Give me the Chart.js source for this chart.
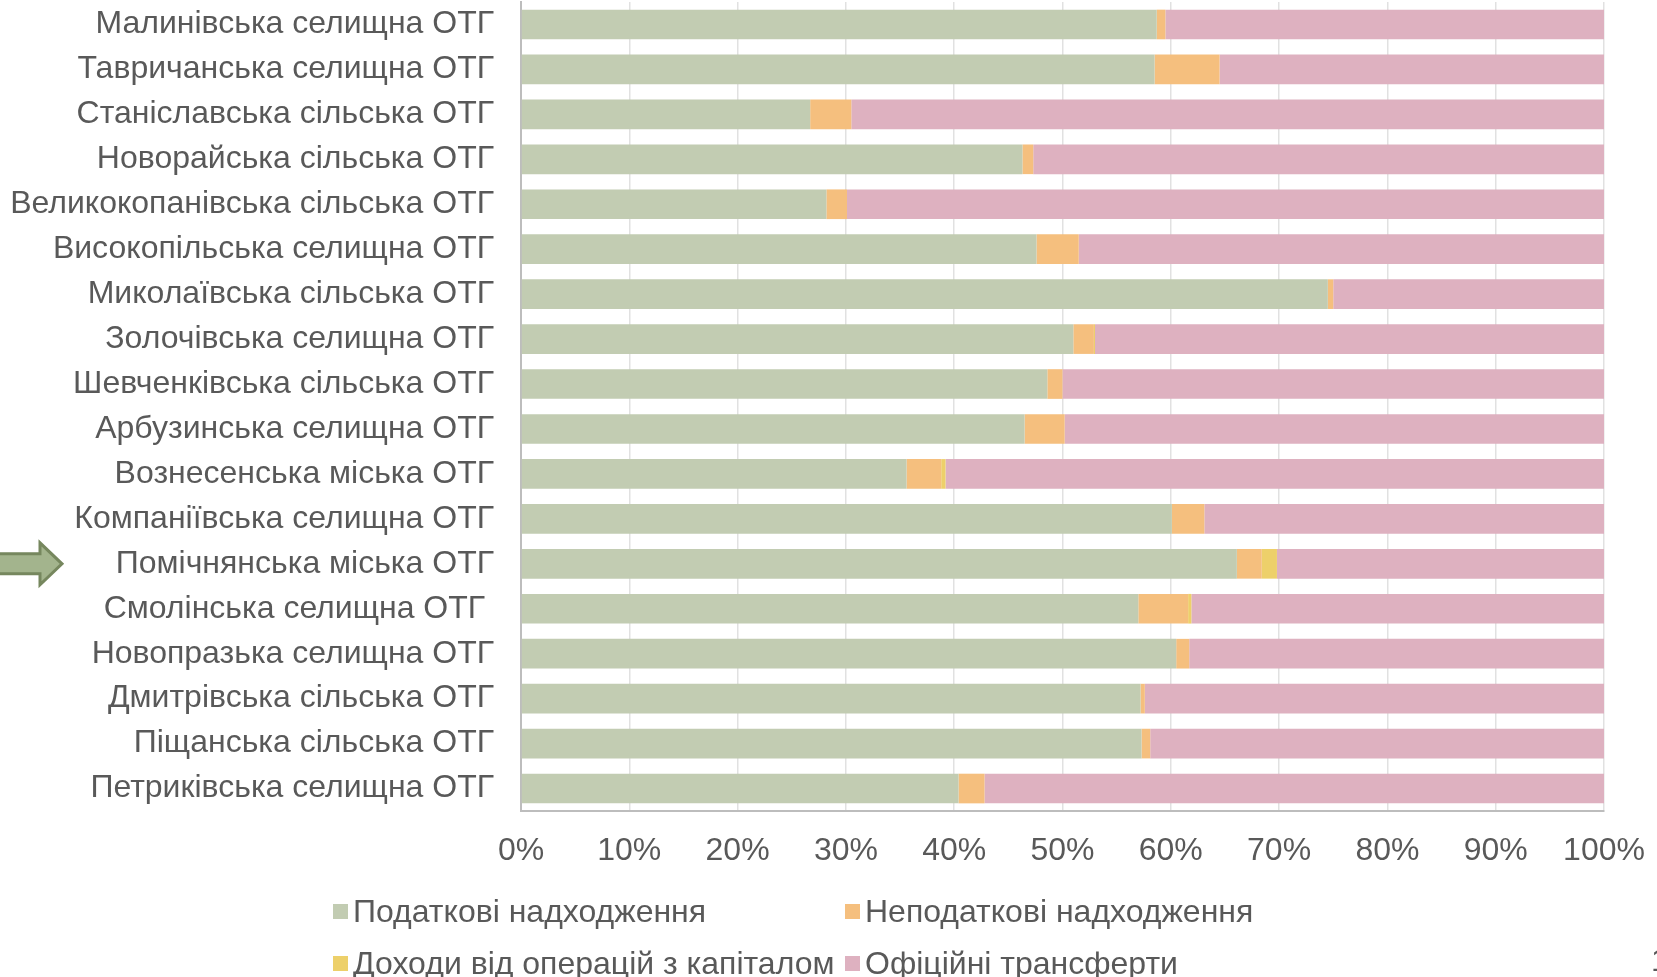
<!DOCTYPE html>
<html lang="uk">
<head>
<meta charset="utf-8">
<title>Структура доходів ОТГ</title>
<script src="https://cdn.jsdelivr.net/npm/chart.js@4.4.6/dist/chart.umd.min.js"></script>
<style>
  html, body { margin: 0; padding: 0; background: #fff; overflow: hidden; }
  #wrap { position: relative; width: 1657px; height: 977px; }
  #legend { position: absolute; left: 333px; top: 893px; width: 1100px;
    font-family: "Liberation Sans", Arial, sans-serif; font-size: 32px; color: #595959; }
  #legend .item { position: absolute; white-space: nowrap; display: flex; align-items: center; }
  #legend .box { width: 15px; height: 15px; margin-right: 5px; }
  #pagenum { position: absolute; left: 1651px; top: 942px; font: 32px "Liberation Sans", Arial, sans-serif; color: #595959; }
</style>
</head>
<body>
<div id="wrap">
  <canvas id="chart" width="1657" height="977"></canvas>
  <div id="legend"></div>
  <div id="pagenum">1</div>
</div>
<script>
// categories, top to bottom
const communities = [
  "Малинівська селищна ОТГ",
  "Тавричанська селищна ОТГ",
  "Станіславська сільська ОТГ",
  "Новорайська сільська ОТГ",
  "Великокопанівська сільська ОТГ",
  "Високопільська селищна ОТГ",
  "Миколаївська сільська ОТГ",
  "Золочівська селищна ОТГ",
  "Шевченківська сільська ОТГ",
  "Арбузинська селищна ОТГ",
  "Вознесенська міська ОТГ",
  "Компаніївська селищна ОТГ",
  "Помічнянська міська ОТГ",
  "Смолінська селищна ОТГ ",
  "Новопразька селищна ОТГ",
  "Дмитрівська сільська ОТГ",
  "Піщанська сільська ОТГ",
  "Петриківська селищна ОТГ"
]

// shares of revenue, %
const taxRevenue     = [58.7, 58.5, 26.7, 46.3, 28.2, 47.6, 74.5, 51.0, 48.6, 46.5, 35.6, 60.1, 66.1, 57.0, 60.5, 57.2, 57.3, 40.4]
const nonTaxRevenue  = [0.8, 6.0, 3.8, 1.0, 1.9, 3.9, 0.5, 1.9, 1.4, 3.7, 3.2, 3.0, 2.3, 4.6, 1.2, 0.4, 0.8, 2.4]
const capitalRevenue = [0, 0, 0, 0, 0, 0, 0, 0.1, 0, 0, 0.4, 0, 1.4, 0.3, 0, 0, 0, 0]
const transfers      = [40.5, 35.5, 69.5, 52.7, 69.9, 48.5, 25.0, 47.0, 50.0, 49.8, 60.8, 36.9, 30.2, 38.1, 38.3, 42.4, 41.9, 57.2]

const xTicks = [0, 10, 20, 30, 40, 50, 60, 70, 80, 90, 100]
const highlighted = "Помічнянська міська ОТГ"

const textColor = "#595959"
const fontFamily = "'Liberation Sans', Arial, sans-serif"

const seriesDefs = [
  { label: "Податкові надходження", data: taxRevenue, color: "#C2CCB2" },
  { label: "Неподаткові надходження", data: nonTaxRevenue, color: "#F5BF7E" },
  { label: "Доходи від операцій з капіталом", data: capitalRevenue, color: "#EDD06A" },
  { label: "Офіційні трансферти", data: transfers, color: "#DEB1C0" }
]

// green block arrow pointing at the highlighted community
const arrowPlugin = {
  id: "arrow",
  afterDraw(chart) {
    const idx = communities.indexOf(highlighted)
    if (idx < 0) return
    const y = chart.scales.y.getPixelForValue(idx)
    const ctx = chart.ctx
    ctx.save()
    ctx.beginPath()
    ctx.moveTo(-2, y - 10)
    ctx.lineTo(40, y - 10)
    ctx.lineTo(40, y - 21)
    ctx.lineTo(62, y)
    ctx.lineTo(40, y + 21)
    ctx.lineTo(40, y + 10)
    ctx.lineTo(-2, y + 10)
    ctx.closePath()
    ctx.fillStyle = "#A3B48D"
    ctx.fill()
    ctx.lineWidth = 3
    ctx.strokeStyle = "#76875E"
    ctx.stroke()
    ctx.restore()
  }
}

// two-column legend below the axis
const htmlLegend = {
  id: "htmlLegend",
  afterUpdate(chart) {
    const box = document.getElementById("legend")
    box.innerHTML = ""
    const cols = [0, 512]
    const rows = [0, 52]
    chart.data.datasets.forEach((ds, i) => {
      const item = document.createElement("div")
      item.className = "item"
      item.style.left = cols[i % 2] + "px"
      item.style.top = rows[Math.floor(i / 2)] + "px"
      const sw = document.createElement("span")
      sw.className = "box"
      sw.style.background = ds.backgroundColor
      const tx = document.createElement("span")
      tx.textContent = ds.label
      item.appendChild(sw)
      item.appendChild(tx)
      box.appendChild(item)
    })
  }
}

new Chart(document.getElementById("chart"), {
  type: "bar",
  data: {
    labels: communities,
    datasets: seriesDefs.map((s) => ({
      label: s.label,
      data: s.data,
      backgroundColor: s.color,
      borderWidth: 0,
      categoryPercentage: 1,
      barPercentage: 0.66
    }))
  },
  options: {
    indexAxis: "y",
    responsive: false,
    animation: false,
    layout: { padding: { top: 2, right: 53, bottom: 0, left: 0 } },
    plugins: {
      legend: { display: false },
      tooltip: { enabled: false }
    },
    scales: {
      x: {
        stacked: true,
        min: 0,
        max: 100,
        z: 1,
        afterFit(scale) {
          scale.height = 166
          scale.paddingLeft = 0
          scale.paddingRight = 0
        },
        afterBuildTicks(scale) { scale.ticks = xTicks.map((v) => ({ value: v })) },
        grid: { color: "rgba(120,120,120,0.22)", lineWidth: 1.5, drawTicks: false },
        border: { color: "#BDBDBD", width: 2 },
        ticks: {
          padding: 21,
          color: textColor,
          font: { family: fontFamily, size: 32 },
          maxRotation: 0,
          callback: (v) => v + "%"
        }
      },
      y: {
        stacked: true,
        afterFit(scale) {
          scale.width = 521
          scale.paddingTop = 0
          scale.paddingBottom = 0
        },
        grid: { display: false, drawTicks: false },
        border: { color: "#BDBDBD", width: 2 },
        ticks: {
          padding: 27,
          color: textColor,
          font: { family: fontFamily, size: 32 },
          autoSkip: false
        }
      }
    }
  },
  plugins: [arrowPlugin, htmlLegend]
})
</script>
</body>
</html>
